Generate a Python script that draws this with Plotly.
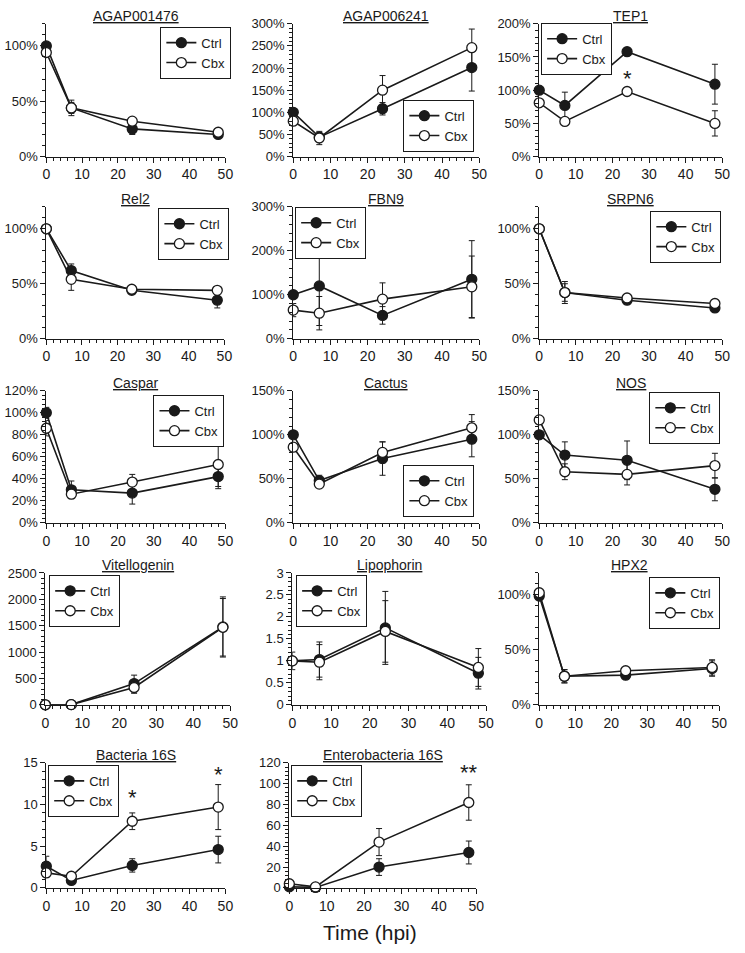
import plotly.graph_objects as go

# ---------------- data ----------------
TIME = [0, 7, 24, 48]

AGAP001476_CTRL = [100, 44, 25, 20]
AGAP001476_CTRL_ERR = [3, 5, 5, 2]
AGAP001476_CBX = [94, 44, 32, 22]
AGAP001476_CBX_ERR = [3, 7, 2, 2]

AGAP006241_CTRL = [100, 44, 108, 201]
AGAP006241_CTRL_ERR = [5, 10, 14, 53]
AGAP006241_CBX = [80, 42, 150, 246]
AGAP006241_CBX_ERR = [5, 15, 33, 42]

TEP1_CTRL = [100, 77, 158, 109]
TEP1_CTRL_ERR = [3, 20, 6, 30]
TEP1_CBX = [81, 53, 98, 50]
TEP1_CBX_ERR = [3, 3, 4, 19]

REL2_CTRL = [100, 62, 44, 35]
REL2_CTRL_ERR = [2, 6, 3, 7]
REL2_CBX = [100, 54, 45, 44]
REL2_CBX_ERR = [2, 10, 3, 2]

FBN9_CTRL = [100, 120, 53, 135]
FBN9_CTRL_ERR = [8, 90, 20, 88]
FBN9_CBX = [65, 58, 90, 118]
FBN9_CBX_ERR = [15, 38, 37, 70]

SRPN6_CTRL = [100, 42, 35, 28]
SRPN6_CTRL_ERR = [2, 8, 2, 2]
SRPN6_CBX = [100, 42, 37, 32]
SRPN6_CBX_ERR = [2, 10, 2, 2]

CASPAR_CTRL = [100, 30, 27, 42]
CASPAR_CTRL_ERR = [5, 8, 10, 11]
CASPAR_CBX = [86, 26, 37, 53]
CASPAR_CBX_ERR = [7, 4, 7, 20]

CACTUS_CTRL = [100, 48, 73, 95]
CACTUS_CTRL_ERR = [3, 6, 19, 20]
CACTUS_CBX = [86, 44, 80, 108]
CACTUS_CBX_ERR = [3, 3, 12, 15]

NOS_CTRL = [100, 77, 71, 38]
NOS_CTRL_ERR = [3, 15, 22, 13]
NOS_CBX = [117, 58, 55, 65]
NOS_CBX_ERR = [3, 9, 12, 14]

VITELLOGENIN_CTRL = [1, 5, 403, 1476]
VITELLOGENIN_CTRL_ERR = [1, 3, 160, 570]
VITELLOGENIN_CBX = [1, 4, 329, 1470]
VITELLOGENIN_CBX_ERR = [1, 3, 110, 545]

LIPOPHORIN_CTRL = [1.0, 1.03, 1.75, 0.72]
LIPOPHORIN_CTRL_ERR = [0.2, 0.4, 0.83, 0.36]
LIPOPHORIN_CBX = [1.0, 0.97, 1.67, 0.85]
LIPOPHORIN_CBX_ERR = [0.05, 0.4, 0.7, 0.43]

HPX2_CTRL = [99, 26, 27, 33]
HPX2_CTRL_ERR = [2, 6, 2, 7]
HPX2_CBX = [102, 26, 31, 34]
HPX2_CBX_ERR = [2, 6, 2, 7]

BACTERIA_CTRL = [2.6, 0.9, 2.7, 4.6]
BACTERIA_CTRL_ERR = [1.2, 0.3, 0.8, 1.6]
BACTERIA_CBX = [1.8, 1.4, 8.0, 9.7]
BACTERIA_CBX_ERR = [0.5, 0.3, 1.0, 2.7]

ENTERO_CTRL = [1, 0.5, 20, 34]
ENTERO_CTRL_ERR = [1, 0.3, 8, 11]
ENTERO_CBX = [4, 1, 44, 82]
ENTERO_CBX_ERR = [3, 0.5, 13, 17]

TITLES = ["AGAP001476", "AGAP006241", "TEP1", "Rel2", "FBN9", "SRPN6",
          "Caspar", "Cactus", "NOS", "Vitellogenin", "Lipophorin", "HPX2",
          "Bacteria 16S", "Enterobacteria 16S"]
Y_MAX = [120, 300, 200, 120, 300, 120, 120, 150, 150, 2500, 3, 120, 15, 120]
Y_DTICK = [50, 50, 50, 50, 100, 50, 20, 50, 50, 500, 0.5, 50, 5, 20]
Y_SUFFIX = ["%", "%", "%", "%", "%", "%", "%", "%", "%", "", "", "%", "", ""]
SERIES_NAMES = ["Ctrl", "Cbx"]
X_TICKS = [0, 10, 20, 30, 40, 50]

# significance marks
SIG_PANEL = [2, 12, 12, 13]
SIG_X = [24, 24, 48, 48]
SIG_Y = [117, 10.9, 13.6, 111]
SIG_TEXT = ["*", "*", "*", "**"]

CTRL = [AGAP001476_CTRL, AGAP006241_CTRL, TEP1_CTRL, REL2_CTRL, FBN9_CTRL, SRPN6_CTRL,
        CASPAR_CTRL, CACTUS_CTRL, NOS_CTRL, VITELLOGENIN_CTRL, LIPOPHORIN_CTRL, HPX2_CTRL,
        BACTERIA_CTRL, ENTERO_CTRL]
CTRL_ERR = [AGAP001476_CTRL_ERR, AGAP006241_CTRL_ERR, TEP1_CTRL_ERR, REL2_CTRL_ERR,
            FBN9_CTRL_ERR, SRPN6_CTRL_ERR, CASPAR_CTRL_ERR, CACTUS_CTRL_ERR, NOS_CTRL_ERR,
            VITELLOGENIN_CTRL_ERR, LIPOPHORIN_CTRL_ERR, HPX2_CTRL_ERR, BACTERIA_CTRL_ERR,
            ENTERO_CTRL_ERR]
CBX = [AGAP001476_CBX, AGAP006241_CBX, TEP1_CBX, REL2_CBX, FBN9_CBX, SRPN6_CBX,
       CASPAR_CBX, CACTUS_CBX, NOS_CBX, VITELLOGENIN_CBX, LIPOPHORIN_CBX, HPX2_CBX,
       BACTERIA_CBX, ENTERO_CBX]
CBX_ERR = [AGAP001476_CBX_ERR, AGAP006241_CBX_ERR, TEP1_CBX_ERR, REL2_CBX_ERR,
           FBN9_CBX_ERR, SRPN6_CBX_ERR, CASPAR_CBX_ERR, CACTUS_CBX_ERR, NOS_CBX_ERR,
           VITELLOGENIN_CBX_ERR, LIPOPHORIN_CBX_ERR, HPX2_CBX_ERR, BACTERIA_CBX_ERR,
           ENTERO_CBX_ERR]

# ---------------- layout geometry (pixels) ----------------
W, H = 745, 953
PANEL_X = [(43, 225), (294, 483), (544, 730),
           (43, 224), (294, 483), (544, 730),
           (43, 225), (294, 483), (544, 730),
           (42, 230), (293, 490), (544, 727),
           (43, 225), (290, 480)]
ROW_Y = [(17, 152), (203, 337), (390, 524), (575, 709), (768, 895)]
# legend placement: (centre x px, edge y px, y anchor)
LEGEND_POS = [(195, 20, "top"), (442, 147, "bottom"), (582, 16, "top"),
              (193, 204, "top"), (332, 203, "top"), (693, 207, "top"),
              (188, 394, "top"), (442, 518, "bottom"), (692, 391, "top"),
              (82, 577, "top"), (333, 577, "top"), (692, 579, "top"),
              (81, 770, "top"), (328, 770, "top")]

FONT = "Liberation Sans, Arial, sans-serif"
INK = "#1a1a1a"

fig = go.Figure()
layout = dict(width=W, height=H, margin=dict(l=0, r=0, t=0, b=0),
              paper_bgcolor="white", plot_bgcolor="white",
              font=dict(family=FONT, color=INK, size=13))
annotations = []

for i in range(14):
    n = i + 1
    ax = "" if n == 1 else str(n)
    legname = "legend" if n == 1 else f"legend{n}"
    x0, x1 = PANEL_X[i]
    y0, y1 = ROW_Y[i // 3]
    xdom = [x0 / W, x1 / W]
    ydom = [1 - y1 / H, 1 - y0 / H]

    for s, (vals, errs) in enumerate([(CTRL[i], CTRL_ERR[i]), (CBX[i], CBX_ERR[i])]):
        fig.add_trace(go.Scatter(
            x=TIME, y=vals, name=SERIES_NAMES[s], mode="lines+markers",
            xaxis="x" + ax, yaxis="y" + ax, legend=legname, cliponaxis=False,
            line=dict(color=INK, width=1.6),
            marker=dict(size=10, color=INK if s == 0 else "white",
                        line=dict(color=INK, width=1.3)),
            error_y=dict(type="data", array=errs, visible=True, color=INK,
                         thickness=1, width=3),
        ))

    layout["xaxis" + ax] = dict(
        domain=xdom, anchor="y" + ax, range=[0, 50], tickvals=X_TICKS,
        showline=True, linecolor=INK, linewidth=1, ticks="outside", ticklen=5,
        tickcolor=INK, showgrid=False, zeroline=False,
        tickfont=dict(size=14, family=FONT, color=INK),
        minor=dict(dtick=2, ticks="outside", ticklen=3, tickcolor=INK, showgrid=False),
    )
    layout["yaxis" + ax] = dict(
        domain=ydom, anchor="x" + ax, range=[0, Y_MAX[i]], dtick=Y_DTICK[i], tick0=0,
        ticksuffix=Y_SUFFIX[i], showline=True, linecolor=INK, linewidth=1,
        ticks="outside", ticklen=5, tickcolor=INK, showgrid=False, zeroline=False,
        tickformat="d" if Y_DTICK[i] >= 1 else None,
        tickfont=dict(size=13, family=FONT, color=INK),
        minor=dict(dtick=Y_DTICK[i] / 5, ticks="outside", ticklen=3, tickcolor=INK,
                   showgrid=False),
    )
    lx, ly, ya = LEGEND_POS[i]
    layout[legname] = dict(
        x=lx / W, y=1 - ly / H, xanchor="center", yanchor=ya,
        xref="paper", yref="paper",
        bgcolor="white", bordercolor=INK, borderwidth=1,
        font=dict(size=13, family=FONT, color=INK), itemwidth=30, tracegroupgap=0,
    )
    annotations.append(dict(
        text=f"<u>{TITLES[i]}</u>", x=(xdom[0] + xdom[1]) / 2, y=1 - (y0 - 8) / H,
        xref="paper", yref="paper", xanchor="center", yanchor="middle",
        showarrow=False, font=dict(size=14, family=FONT, color=INK),
    ))

for k in range(len(SIG_PANEL)):
    n = SIG_PANEL[k] + 1
    ax = "" if n == 1 else str(n)
    annotations.append(dict(
        text=SIG_TEXT[k], x=SIG_X[k], y=SIG_Y[k], xref="x" + ax, yref="y" + ax,
        xanchor="center", yanchor="middle", showarrow=False,
        font=dict(size=22, family=FONT, color=INK),
    ))

annotations.append(dict(
    text="Time (hpi)", x=372 / W, y=1 - 940 / H, xref="paper", yref="paper",
    xanchor="center", yanchor="middle", showarrow=False,
    font=dict(size=21, family=FONT, color=INK),
))

layout["annotations"] = annotations
layout["showlegend"] = True
fig.update_layout(**layout)
fig.write_html("out.html", config={"displayModeBar": False},
               post_script="document.body.style.margin='0';document.body.style.overflow='hidden';")
